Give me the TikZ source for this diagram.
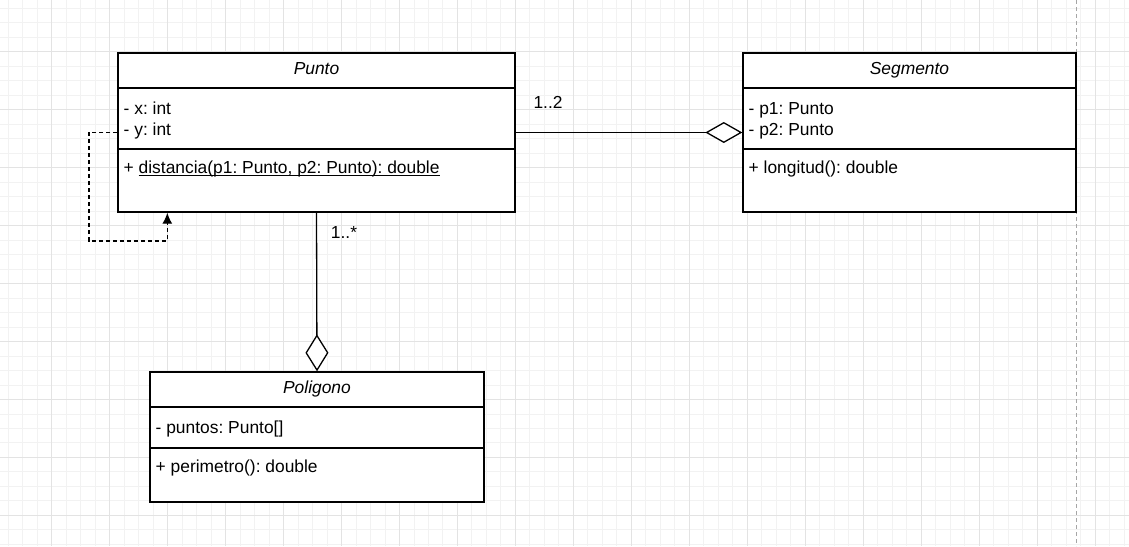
\documentclass[tikz,border=0pt]{standalone}
\usepackage{fontspec}
\setmainfont{Liberation Sans}
\usetikzlibrary{arrows.meta,calc}
\frenchspacing
\newcommand\myul[1]{\setbox0\hbox{#1}\rlap{\rule[-2.3pt]{\wd0}{1.1pt}}\box0}
\begin{document}
\begin{tikzpicture}[x=1pt,y=-1pt,
  umlbox/.style={draw=black,line width=1.4pt,fill=white,inner sep=0pt},
  divider/.style={draw=black,line width=1.4pt},
  txt/.style={inner sep=0pt,anchor=base west,font=\fontsize{17.4}{20}\selectfont\frenchspacing},
  title/.style={inner sep=0pt,anchor=base,font=\fontsize{17.4}{20}\selectfont\itshape},
  agg/.style={draw=black,line width=1.3pt,-{Diamond[fill=white,length=37pt,width=#1,line width=1.3pt]}},
  dep/.style={draw=black,line width=1.4pt,dash pattern=on 4pt off 3pt,-{Latex[length=11pt,width=10pt]}},
  minorgrid/.style={draw=black!5,line width=0.9pt},
  majorgrid/.style={draw=black!11,line width=0.9pt},
  pageline/.style={draw=black!35,line width=1pt,dash pattern=on 4pt off 3pt}]
\useasboundingbox (0,0) rectangle (1129,546);
\fill[white] (0,0) rectangle (1129,546);
% grid
\foreach \k in {0,...,77} {\draw[minorgrid] (8.23+14.49*\k,0) -- (8.23+14.49*\k,546);}
\foreach \k in {0,...,37} {\draw[minorgrid] (0,8.23+14.49*\k) -- (1129,8.23+14.49*\k);}
\foreach \k in {0,...,18} {\draw[majorgrid] (51.7+57.97*\k,0) -- (51.7+57.97*\k,546);}
\foreach \k in {0,...,8} {\draw[majorgrid] (0,51.7+57.97*\k) -- (1129,51.7+57.97*\k);}
\draw[pageline] (1076.7,0) -- (1076.7,546);

% classes
\node[umlbox,minimum width=397pt,minimum height=159pt] (punto) at (316.5,132.5) {};
\node[umlbox,minimum width=333pt,minimum height=159pt] (segmento) at (909.5,132.5) {};
\node[umlbox,minimum width=334pt,minimum height=130pt] (poligono) at (317,437) {};

\draw[divider] (punto.west |- 0,88) -- (punto.east |- 0,88);
\draw[divider] (punto.west |- 0,149) -- (punto.east |- 0,149);
\draw[divider] (segmento.west |- 0,88) -- (segmento.east |- 0,88);
\draw[divider] (segmento.west |- 0,149) -- (segmento.east |- 0,149);
\draw[divider] (poligono.west |- 0,407) -- (poligono.east |- 0,407);
\draw[divider] (poligono.west |- 0,448) -- (poligono.east |- 0,448);

\node[title] (puntoT) at (316.5,74.3) {Punto};
\node[txt] (puntoA1) at (123.5,114) {- x: int};
\node[txt] (puntoA2) at (123.5,135) {- y: int};
\node[txt] (puntoM) at (123.5,173.5) {+ \myul{distancia(p1: Punto, p2: Punto): double}};

\node[title] (segT) at (909.5,74.3) {Segmento};
\node[txt] (segA1) at (748.5,114) {- p1: Punto};
\node[txt] (segA2) at (748.5,135) {- p2: Punto};
\node[txt] (segM) at (748.5,173.5) {+ longitud(): double};

\node[title] (polT) at (317,393.3) {Poligono};
\node[txt] (polA) at (155.5,433.5) {- puntos: Punto[]};
\node[txt] (polM) at (155.5,472.5) {+ perimetro(): double};

% connectors
\draw[agg=21pt] (punto.east) -- (segmento.west);
\draw[agg=23pt] (punto.south) -- (poligono.north);
\coordinate (loopcorner) at (89,241);
\draw[dep] (punto.west) -| (loopcorner) -| ($(punto.south west)+(50,0)$);

\node[txt] (m12) at (533.3,108.3) {1..2};
\node[txt] (m1s) at (330.7,238.3) {1..*};
\end{tikzpicture}
\end{document}
